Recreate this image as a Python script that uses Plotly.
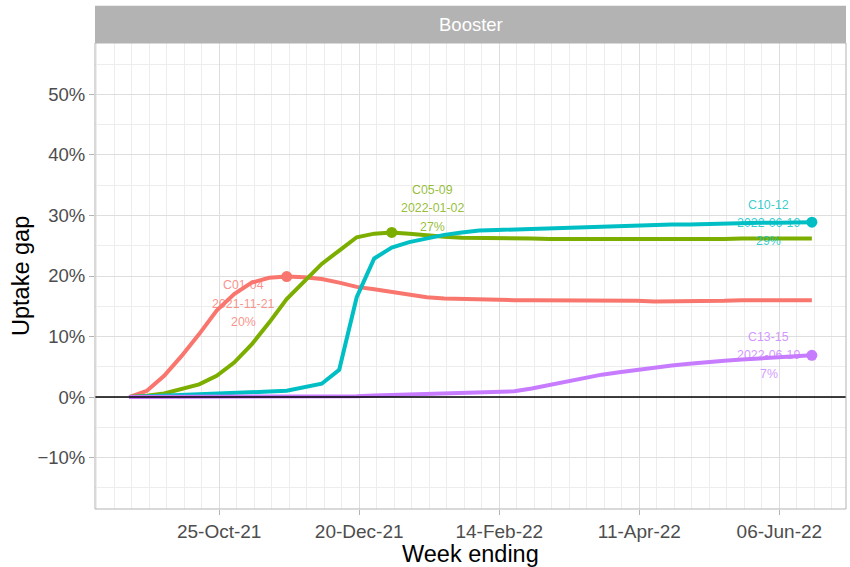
import plotly.graph_objects as go
import pandas as pd

# ---------------- data ----------------
week_start = "2021-09-19"
week_end = "2022-06-19"
facet_title = "Booster"
series_names = ["C01-04", "C05-09", "C10-12", "C13-15"]

# uptake gap, percent
c01_04 = [0.0, 1.0, 3.5, 6.8, 10.4, 14.3, 17.0, 18.9, 19.7, 19.9,
          19.8, 19.5, 18.9, 18.2, 17.8, 17.4, 16.9, 16.5, 16.3, 16.2,
          16.1, 16.0, 16.0, 16.0, 16.0, 16.0, 15.9, 15.9, 15.9, 15.9,
          15.8, 15.8, 15.9, 15.9, 15.9, 16.0, 16.0, 16.0, 16.0, 16.0]
c05_09 = [0.0, 0.2, 0.6, 1.3, 2.1, 3.5, 5.7, 8.7, 12.3, 16.2,
          19.2, 22.0, 24.2, 26.4, 27.0, 27.2, 27.0, 26.7, 26.5, 26.3,
          26.3, 26.2, 26.2, 26.2, 26.1, 26.1, 26.1, 26.0, 26.0, 26.0,
          26.0, 26.1, 26.1, 26.1, 26.1, 26.2, 26.2, 26.2, 26.2, 26.2]
c10_12 = [0.0, 0.1, 0.15, 0.25, 0.35, 0.45, 0.55, 0.75, 0.9, 1.05,
          1.6, 2.2, 4.5, 16.5, 22.9, 24.7, 25.6, 26.2, 26.8, 27.2,
          27.5, 27.6, 27.7, 27.8, 27.9, 28.0, 28.1, 28.2, 28.2, 28.3,
          28.4, 28.5, 28.5, 28.6, 28.7, 28.7, 28.8, 28.8, 28.9, 28.9]
c13_15 = [0.0, 0.0, 0.0, 0.02, 0.03, 0.04, 0.05, 0.06, 0.07, 0.08,
          0.09, 0.1, 0.12, 0.15, 0.25, 0.35, 0.45, 0.55, 0.65, 0.75,
          0.8, 0.85, 0.95, 1.4, 2.0, 2.6, 3.2, 3.7, 4.1, 4.5,
          4.8, 5.2, 5.5, 5.8, 6.0, 6.2, 6.4, 6.6, 6.7, 6.9]

x_tick_start = "2021-10-25"
y_limits = [-0.15, 0.55]

# ---------------- styling ----------------
line_colors = ["#F8766D", "#7CAE00", "#00BFC4", "#C77CFF"]
text_colors = ["rgba(248,118,109,0.8)", "rgba(124,174,0,0.8)",
               "rgba(0,191,196,0.8)", "rgba(199,124,255,0.8)"]
# pixel offset of the label's middle line from its point (dx right, dy up)
label_offsets = [(-43, -27), (41, 24), (-43, -1), (-43, 0)]
label_line_gap = 18.3

FONT = "Liberation Sans, Arial, sans-serif"
W, H = 850, 567
ML, MR, MT, MB = 95, 4, 43, 58
panel_h = H - MT - MB
strip_h = 37.3

weeks = pd.date_range(week_start, week_end, freq="7D")
all_series = [c01_04, c05_09, c10_12, c13_15]

span = weeks[-1] - weeks[0]
x_range = [weeks[0] - span * 0.05, weeks[-1] + span * 0.05]
y_span = y_limits[1] - y_limits[0]
y_range = [y_limits[0] - 0.05 * y_span, y_limits[1] + 0.05 * y_span]

fig = go.Figure()

for name, vals, col in zip(series_names, all_series, line_colors):
    fig.add_trace(go.Scatter(
        x=weeks, y=[v / 100 for v in vals], mode="lines", name=name,
        line=dict(color=col, width=4), showlegend=False,
        hoverinfo="skip"))

annotations = []
for name, vals, col, tcol, (dx, dy) in zip(series_names, all_series,
                                            line_colors, text_colors,
                                            label_offsets):
    i = max(range(len(vals)), key=lambda k: (vals[k], k))
    xd, yd = weeks[i], vals[i] / 100
    fig.add_trace(go.Scatter(
        x=[xd], y=[yd], mode="markers",
        marker=dict(color=col, size=11), showlegend=False,
        hoverinfo="skip"))
    lines = [name, xd.strftime("%Y-%m-%d"), f"{round(vals[i]):.0f}%"]
    for j, t in enumerate(lines):
        annotations.append(dict(
            x=xd, y=yd, xref="x", yref="y", text=t, showarrow=False,
            xanchor="center", yanchor="middle",
            xshift=dx, yshift=dy + (1 - j) * label_line_gap,
            font=dict(family=FONT, size=12.4, color=tcol)))

# facet strip label
annotations.append(dict(
    x=0.5, y=1 + (strip_h / 2) / panel_h, xref="paper", yref="paper",
    text=facet_title, showarrow=False, xanchor="center", yanchor="middle",
    yshift=-0.5,
    font=dict(family=FONT, size=18.5, color="#FFFFFF")))
# axis titles
annotations.append(dict(
    x=0.5, y=0, xref="paper", yref="paper", text="Week ending",
    showarrow=False, xanchor="center", yanchor="middle", yshift=-45,
    font=dict(family=FONT, size=23.5, color="#000000")))
annotations.append(dict(
    x=0, y=0.5, xref="paper", yref="paper", text="Uptake gap",
    showarrow=False, xanchor="center", yanchor="middle", xshift=-74,
    textangle=-90,
    font=dict(family=FONT, size=23.5, color="#000000")))

shapes = [
    # strip background
    dict(type="rect", xref="paper", yref="paper", x0=0, x1=1,
         y0=1, y1=1 + strip_h / panel_h, fillcolor="#B3B3B3",
         line=dict(width=0), layer="above"),
    # zero reference line
    dict(type="line", xref="paper", yref="y", x0=0, x1=1, y0=0, y1=0,
         line=dict(color="#000000", width=1.6), layer="above"),
    # panel border
    dict(type="rect", xref="paper", yref="paper", x0=0, x1=1, y0=0, y1=1,
         line=dict(color="#B3B3B3", width=1), layer="above"),
]

fig.update_layout(
    width=W, height=H,
    margin=dict(l=ML, r=MR, t=MT, b=MB),
    paper_bgcolor="#FFFFFF", plot_bgcolor="#FFFFFF",
    annotations=annotations, shapes=shapes, showlegend=False,
    font=dict(family=FONT),
)

fig.update_xaxes(
    range=x_range, type="date",
    tick0=x_tick_start, dtick=56 * 86400000, tickformat="%d-%b-%y",
    ticks="outside", ticklen=5, tickwidth=1, tickcolor="#B3B3B3",
    tickfont=dict(family=FONT, size=19, color="#4D4D4D"),
    showgrid=True, gridcolor="#DEDEDE", gridwidth=1,
    minor=dict(tick0=x_tick_start, dtick=7 * 86400000, showgrid=True,
               gridcolor="#EDEDED", gridwidth=1, ticks=""),
    showline=False, zeroline=False,
)
fig.update_yaxes(
    range=y_range, dtick=0.1, tick0=0, tickformat=".0%",
    ticks="outside", ticklen=5, tickwidth=1, tickcolor="#B3B3B3",
    tickfont=dict(family=FONT, size=18.5, color="#4D4D4D"),
    showgrid=True, gridcolor="#DEDEDE", gridwidth=1,
    minor=dict(dtick=0.05, tick0=0, showgrid=True,
               gridcolor="#EDEDED", gridwidth=1, ticks=""),
    showline=False, zeroline=False,
)

fig.write_html(
    "out.html",
    config={"displayModeBar": False},
    post_script="document.body.style.margin='0';"
                "document.body.style.overflow='hidden';",
)
